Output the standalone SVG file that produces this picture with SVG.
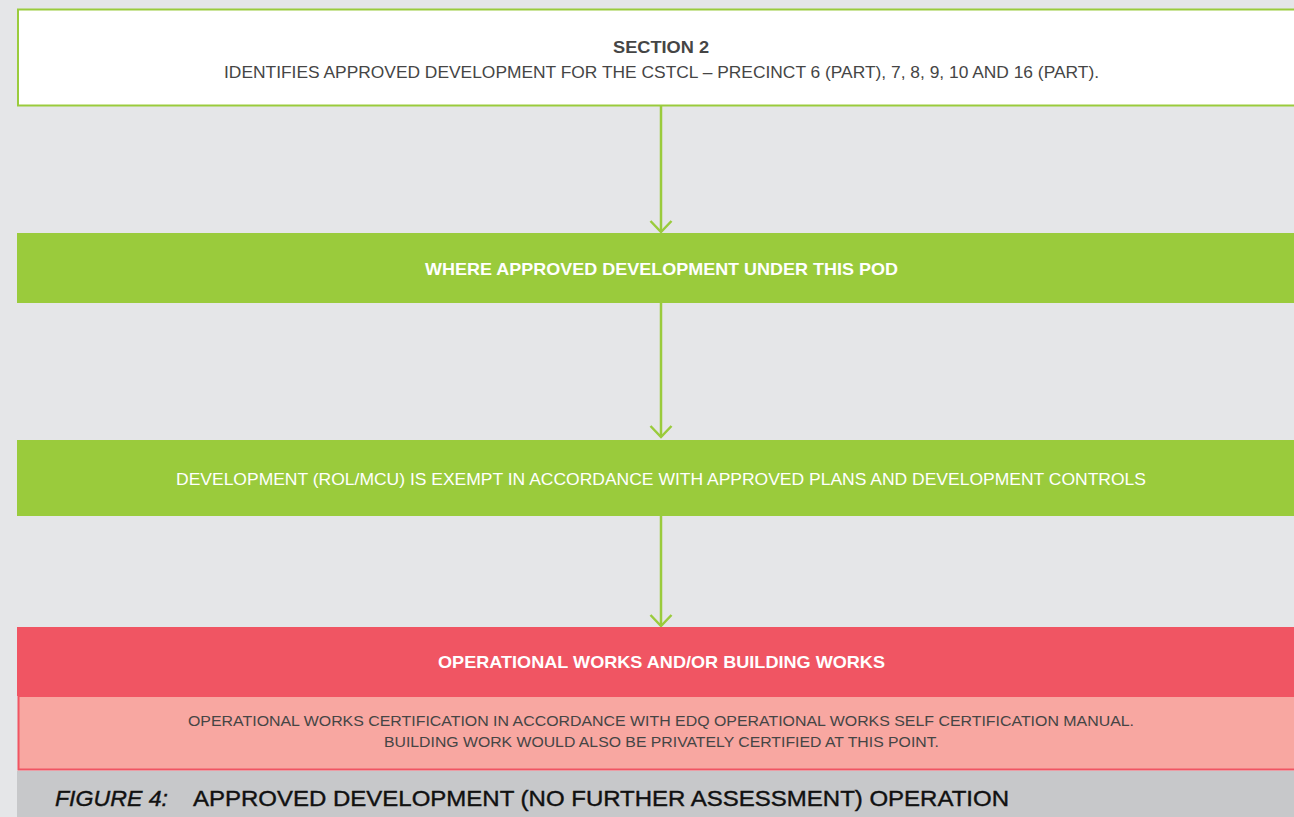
<svg xmlns="http://www.w3.org/2000/svg" width="1294" height="817" viewBox="0 0 1294 817">
<style>
.t{font-family:"Liberation Sans",Arial,sans-serif;text-anchor:middle}
.dk{fill:#454545}
.wh{fill:#ffffff}
.b{font-weight:bold}
.conn{stroke:#9acb3c;stroke-width:2.5;fill:none}
</style>
<defs>
<marker id="arr" markerWidth="26" markerHeight="26" refX="13" refY="13" viewBox="0 0 26 26" markerUnits="userSpaceOnUse" orient="auto">
<path d="M2,2.5 L13,13 L2,23.5" fill="none" stroke="#9acb3c" stroke-width="2.5"/>
</marker>
</defs>
<rect x="0" y="0" width="1294" height="817" fill="#e5e6e8"/>
<g id="connectors">
<line class="conn" x1="661" y1="106" x2="661" y2="232" marker-end="url(#arr)"/>
<line class="conn" x1="661" y1="303" x2="661" y2="437" marker-end="url(#arr)"/>
<line class="conn" x1="661" y1="516" x2="661" y2="626" marker-end="url(#arr)"/>
</g>
<g id="section2">
<rect x="18" y="9.5" width="1290" height="96" fill="#ffffff" stroke="#9acb3c" stroke-width="2"/>
<text class="t dk b" x="661" y="53" font-size="17" textLength="96" lengthAdjust="spacingAndGlyphs">SECTION 2</text>
<text class="t dk" x="661.5" y="78" font-size="17" textLength="875" lengthAdjust="spacingAndGlyphs">IDENTIFIES APPROVED DEVELOPMENT FOR THE CSTCL – PRECINCT 6 (PART), 7, 8, 9, 10 AND 16 (PART).</text>
</g>
<g id="where">
<rect x="17" y="233" width="1277" height="70" fill="#9acb3c"/>
<text class="t wh b" x="661.5" y="275" font-size="17" textLength="473" lengthAdjust="spacingAndGlyphs">WHERE APPROVED DEVELOPMENT UNDER THIS POD</text>
</g>
<g id="exempt">
<rect x="17" y="440" width="1277" height="76" fill="#9acb3c"/>
<text class="t wh" x="661" y="485" font-size="17" textLength="970" lengthAdjust="spacingAndGlyphs">DEVELOPMENT (ROL/MCU) IS EXEMPT IN ACCORDANCE WITH APPROVED PLANS AND DEVELOPMENT CONTROLS</text>
</g>
<g id="operational">
<rect x="17" y="627" width="1277" height="69" fill="#f05563"/>
<text class="t wh b" x="661.5" y="668" font-size="17" textLength="447" lengthAdjust="spacingAndGlyphs">OPERATIONAL WORKS AND/OR BUILDING WORKS</text>
<rect x="18.5" y="696" width="1290" height="73.5" fill="#f8a7a1" stroke="#f05563" stroke-width="2"/>
<text class="t dk" x="661" y="726" font-size="14.5" textLength="946" lengthAdjust="spacingAndGlyphs">OPERATIONAL WORKS CERTIFICATION IN ACCORDANCE WITH EDQ OPERATIONAL WORKS SELF CERTIFICATION MANUAL.</text>
<text class="t dk" x="661.5" y="747" font-size="14.5" textLength="555" lengthAdjust="spacingAndGlyphs">BUILDING WORK WOULD ALSO BE PRIVATELY CERTIFIED AT THIS POINT.</text>
</g>
<g id="caption">
<rect x="17" y="771" width="1277" height="46" fill="#c7c8ca"/>
<text x="55" y="806" font-family="'Liberation Sans',Arial,sans-serif" font-size="22.5" font-style="italic" fill="#111" stroke="#111" stroke-width="0.4" textLength="113" lengthAdjust="spacingAndGlyphs">FIGURE 4:</text>
<text x="193" y="806" font-family="'Liberation Sans',Arial,sans-serif" font-size="22.5" fill="#111" stroke="#111" stroke-width="0.4" textLength="816" lengthAdjust="spacingAndGlyphs">APPROVED DEVELOPMENT (NO FURTHER ASSESSMENT) OPERATION</text>
</g>
</svg>
